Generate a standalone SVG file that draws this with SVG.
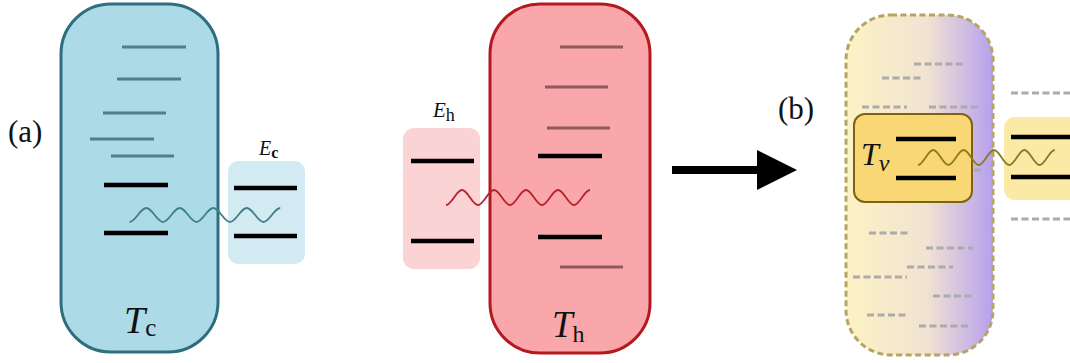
<svg xmlns="http://www.w3.org/2000/svg" width="1070" height="363" viewBox="0 0 1070 363">
<defs>
<linearGradient id="gv" x1="0" y1="0" x2="1" y2="0">
<stop offset="0" stop-color="#fdf2c4"/>
<stop offset="0.55" stop-color="#f1e3d2"/>
<stop offset="1" stop-color="#b7a0ee"/>
</linearGradient>
<style>
.lvb{stroke:#4f7f89;stroke-width:3;fill:none}
.lvr{stroke:#8e5a5c;stroke-width:3;fill:none}
.lvk{stroke:#000;stroke-width:4.5;fill:none}
.lvd{stroke:#ababab;stroke-width:3;stroke-dasharray:7 3.5;fill:none}
.wave{fill:none;stroke-width:1.8}
.lab{font-family:"Liberation Serif",serif;fill:#111}
.it{font-style:italic}
</style>
</defs>
<rect width="1070" height="363" fill="#fff"/>

<text class="lab" x="8" y="142" font-size="31">(a)</text>
<text class="lab" x="778" y="119" font-size="31">(b)</text>

<g id="Tc">
<rect x="61" y="4" width="157" height="348" rx="50" fill="#acdae7" stroke="#2e6e7e" stroke-width="3"/>
<line class="lvb" x1="122" y1="47" x2="186" y2="47"/>
<line class="lvb" x1="117" y1="79" x2="181" y2="79"/>
<line class="lvb" x1="103" y1="113" x2="166" y2="113"/>
<line class="lvb" x1="90" y1="139" x2="154" y2="139"/>
<line class="lvb" x1="111" y1="156" x2="174" y2="156"/>
<line class="lvk" x1="104" y1="185" x2="168" y2="185"/>
<line class="lvk" x1="104" y1="233" x2="168" y2="233"/>
<text class="lab it" x="124" y="333" font-size="38">T<tspan font-style="normal" font-size="25" dy="3">c</tspan></text>
</g>

<g id="Ec">
<rect x="228" y="161" width="77" height="103" rx="10" fill="#d2ebf3"/>
<line class="lvk" x1="234" y1="188" x2="297" y2="188"/>
<line class="lvk" x1="234" y1="236" x2="297" y2="236"/>
<text class="lab it" x="259" y="155" font-size="20">E<tspan font-style="normal" font-weight="bold" font-size="16" dy="3">c</tspan></text>
</g>

<g id="Eh">
<rect x="403" y="128" width="77" height="141" rx="11" fill="#fcd3d5"/>
<line class="lvk" x1="411" y1="161" x2="474" y2="161"/>
<line class="lvk" x1="411" y1="241" x2="474" y2="241"/>
<text class="lab it" x="433" y="117" font-size="21">E<tspan font-style="normal" font-size="18" dy="4">h</tspan></text>
</g>

<g id="Th">
<rect x="490" y="4" width="160" height="349" rx="50" fill="#f9a7aa" stroke="#b3191f" stroke-width="3"/>
<line class="lvr" x1="560" y1="47" x2="623" y2="47"/>
<line class="lvr" x1="545" y1="87" x2="608" y2="87"/>
<line class="lvr" x1="547" y1="128" x2="610" y2="128"/>
<line class="lvk" x1="538" y1="156" x2="602" y2="156"/>
<line class="lvk" x1="538" y1="237" x2="602" y2="237"/>
<line class="lvr" x1="560" y1="267" x2="623" y2="267"/>
<text class="lab it" x="552" y="337" font-size="37">T<tspan font-style="normal" font-size="24" dy="5">h</tspan></text>
</g>

<g id="Tv-bath">
<rect x="846" y="15" width="147" height="340" rx="45" fill="url(#gv)" stroke="#b5a562" stroke-width="3" stroke-dasharray="6 3.5"/>
<line class="lvd" x1="914" y1="64" x2="964" y2="64"/>
<line class="lvd" x1="882" y1="78" x2="922" y2="78"/>
<line class="lvd" x1="862" y1="107" x2="907" y2="107"/>
<line class="lvd" x1="929" y1="107" x2="980" y2="107"/>
<line class="lvd" x1="974" y1="170" x2="982" y2="170"/>
<line class="lvd" x1="869" y1="233" x2="909" y2="233"/>
<line class="lvd" x1="926" y1="248" x2="973" y2="248"/>
<line class="lvd" x1="907" y1="267" x2="953" y2="267"/>
<line class="lvd" x1="853" y1="277" x2="907" y2="277"/>
<line class="lvd" x1="933" y1="296" x2="972" y2="296"/>
<line class="lvd" x1="867" y1="315" x2="907" y2="315"/>
<line class="lvd" x1="919" y1="326" x2="968" y2="326"/>
</g>

<g id="Tv">
<rect x="854" y="114" width="118" height="88" rx="11" fill="#f9d775" stroke="#7d6412" stroke-width="2"/>
<line class="lvk" x1="896" y1="139" x2="956" y2="139"/>
<line class="lvk" x1="896" y1="178" x2="956" y2="178"/>
<text class="lab it" x="861" y="165" font-size="32">T<tspan font-size="24" dy="6">v</tspan></text>
</g>

<g id="right-system">
<line class="lvd" x1="1011" y1="93" x2="1070" y2="93"/>
<rect x="1004" y="117" width="80" height="83" rx="11" fill="#fbe9a6"/>
<line class="lvk" x1="1011" y1="137" x2="1070" y2="137"/>
<line class="lvk" x1="1011" y1="177" x2="1070" y2="177"/>
<line class="lvd" x1="1011" y1="219" x2="1070" y2="219"/>
</g>

<g id="connectors">
<path class="wave" stroke="#3e7f8a" d="M129.5,222 C135.5,222 140.2,208 146.25,208 S157,222 163,222 S173.7,208 179.75,208 S190.5,222 196.5,222 S207.2,208 213.25,208 S224,222 230,222 S240.7,208 246.75,208 S257.5,222 263.5,222 S274.2,208 280.25,208"/>
<path class="wave" stroke="#b3232b" d="M446,205 C451.8,205 456.2,190 462,190 S472.2,205 478,205 S488.2,190 494,190 S504.2,205 510,205 S520.2,190 526,190 S536.2,205 542,205 S552.2,190 558,190 S568.2,205 574,205 S584.2,190 590,190"/>
<path class="wave" stroke="#8a7a22" d="M918,165 C923.5,165 927.7,150 933.2,150 S943,165 948.4,165 S958.1,150 963.6,150 S973.3,165 978.8,165 S988.5,150 994,150 S1003.7,165 1009.2,165 S1018.9,150 1024.4,150 S1034.1,165 1039.6,165 S1049.3,150 1054.8,150"/>
<rect x="672" y="166" width="88" height="8" fill="#000"/>
<polygon points="757,150 797,170 757,190" fill="#000"/>
</g>
</svg>
